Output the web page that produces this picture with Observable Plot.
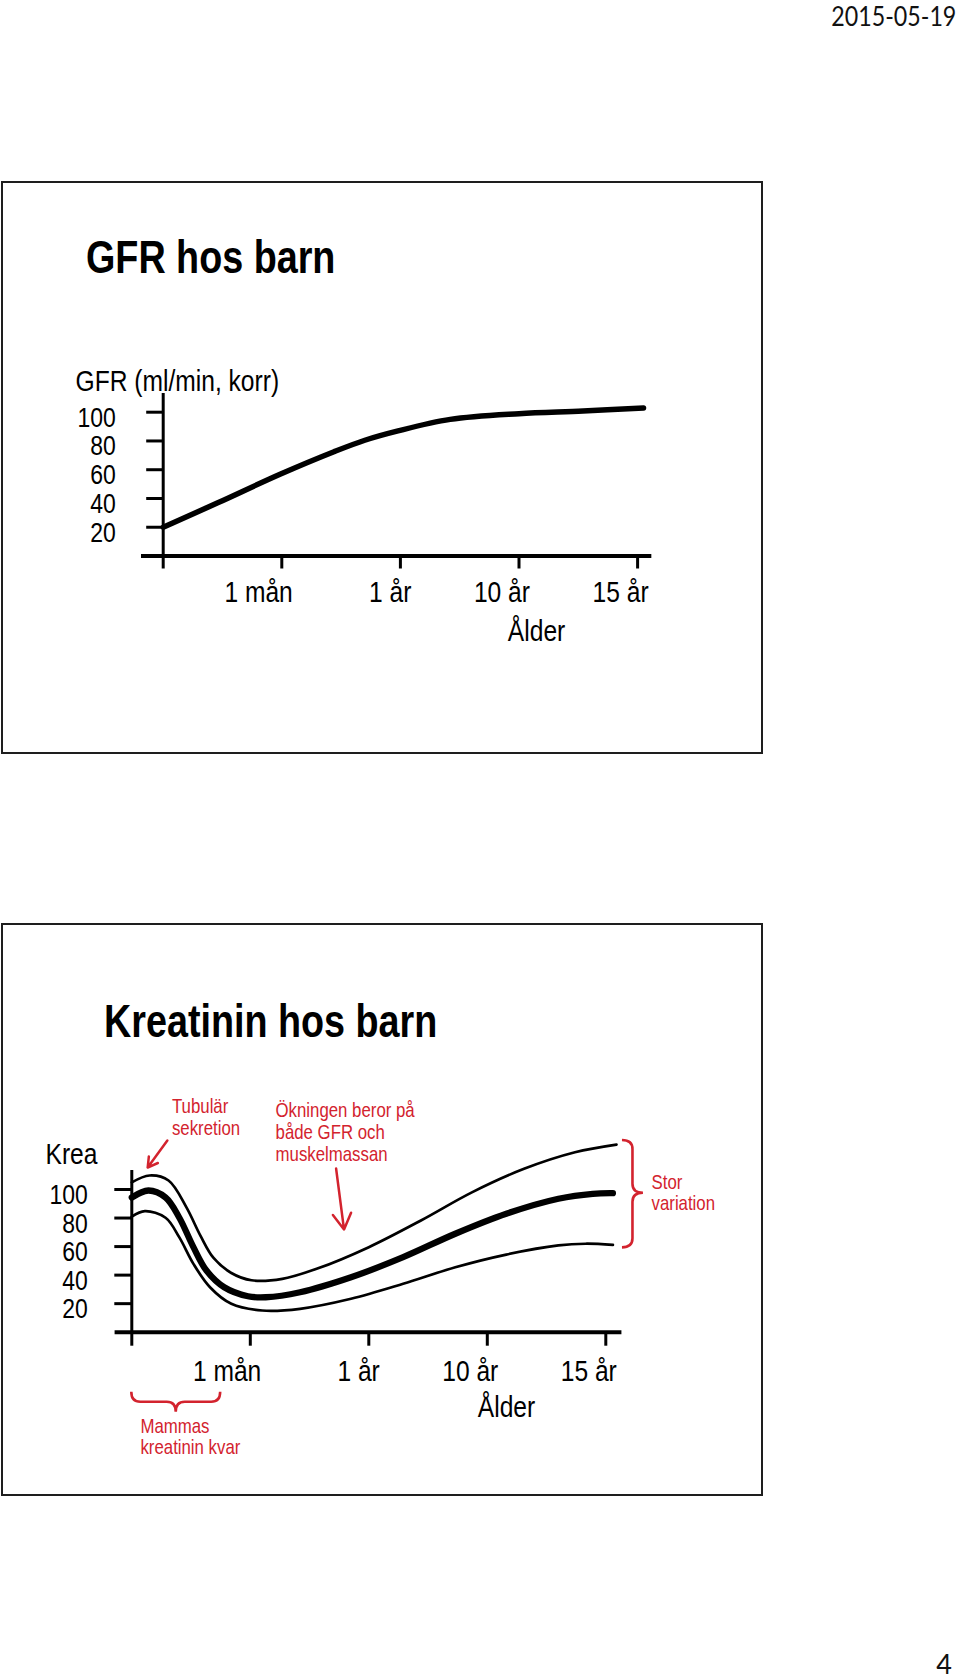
<!DOCTYPE html>
<html><head><meta charset="utf-8">
<script src="https://cdn.jsdelivr.net/npm/d3@7"></script>
<script src="https://cdn.jsdelivr.net/npm/@observablehq/plot@0.6"></script>
<style>
html,body{margin:0;padding:0;background:#fff;}
#page{position:relative;width:960px;height:1680px;overflow:hidden;background:#fff;}
.frame{position:absolute;box-sizing:border-box;border:2px solid #1e1e1e;pointer-events:none;}
.title{position:absolute;font-weight:bold;font-size:46px;line-height:46px;white-space:nowrap;color:#000;transform-origin:0 0;}
.hdr{position:absolute;font-family:Lato,'Open Sans',sans-serif;color:#111;white-space:nowrap;font-size:27px;line-height:32px;transform-origin:100% 0;}
</style></head><body><div id="page"></div><script>
// ---------------- data ----------------
const xTickPos = [0, 1, 2, 3, 4];
const xTickLabels = ["", "1 mån", "1 år", "10 år", "15 år"];
const yTicks = [20, 40, 60, 80, 100];

// GFR (ml/min, korr) against age position (tick units)
const gfrAge   = [0, 0.46, 0.99, 1.44, 1.7, 1.98, 2.42, 3.0, 3.54, 4.05];
const gfrValue = [20, 37, 57, 72.5, 80.5, 87, 95, 99, 100.8, 103];

// Kreatinin: middle (thick), upper and lower (thin)
const kreaMidAge  = [0, 0.14, 0.285, 0.40, 0.52, 0.63, 0.78, 0.98, 1.13, 1.42, 1.85, 2.29, 2.73, 3.16, 3.60, 3.89, 4.06];
const kreaMid     = [94.4, 99.3, 94.4, 80.4, 59.6, 43.2, 31.5, 25.2, 24.5, 28, 38.5, 52.6, 69, 83, 93.5, 97, 97.4];
const kreaHighAge = [0, 0.15, 0.31, 0.46, 0.58, 0.69, 0.84, 1.01, 1.27, 1.56, 2.0, 2.44, 2.87, 3.31, 3.74, 4.09];
const kreaHigh    = [105, 109.8, 106.3, 87.6, 67.5, 52, 41.5, 36.4, 37.4, 44.4, 59.6, 78.3, 98, 114.5, 126.1, 131.5];
const kreaLowAge  = [0, 0.11, 0.285, 0.40, 0.52, 0.66, 0.84, 1.10, 1.42, 1.85, 2.29, 2.73, 3.16, 3.60, 3.83, 4.06];
const kreaLow     = [81, 84.8, 80.2, 66.6, 47.9, 31.5, 19.9, 15.2, 16.4, 23.4, 33.9, 45.5, 54.4, 60.8, 62, 61.2];

// annotation texts
const gfrTitle = "GFR hos barn";
const kreaTitle = "Kreatinin hos barn";
const gfrAxisLabel = "GFR (ml/min, korr)";
const kreaAxisLabel = "Krea";
const ageLabel = "Ålder";
const redNotes = [
  {text: "Tubulär\nsekretion", x: 0.339, y: 138.5},
  {text: "Ökningen beror på\nbåde GFR och\nmuskelmassan", x: 1.213, y: 120.3},
  {text: "Stor\nvariation", x: 4.386, y: 85.6},
  {text: "Mammas\nkreatinin kvar", x: 0.073, y: -85.7}
];
const redArrows = [
  {x1: 0.30, y1: 134.3, x2: 0.134, y2: 115.4},
  {x1: 1.724, y1: 114.7, x2: 1.791, y2: 71.9}
];
const mammaSpan = [0, 0.75];

// ---------------- helpers ----------------
const RED = "#d3232e";
const page = document.getElementById("page");
const narrowOK = (() => {
  const ctx = document.createElement("canvas").getContext("2d");
  const s = "GFR hos barn 0123456789 mån Ålder";
  ctx.font = "40px monospace"; const a = ctx.measureText(s).width;
  ctx.font = "40px 'Liberation Sans Narrow', monospace"; const b = ctx.measureText(s).width;
  return Math.abs(a - b) > 1;
})();
const FAMILY = narrowOK ? "'Liberation Sans Narrow', 'Arial Narrow', sans-serif" : "'Liberation Sans', Arial, Helvetica, sans-serif";
const SQUEEZE = narrowOK ? 1 : 0.82;

function squeeze(svg) {
  if (SQUEEZE === 1) return;
  svg.querySelectorAll("text").forEach(t => {
    const tr = t.getAttribute("transform") || "";
    t.setAttribute("transform", `${tr} scale(${SQUEEZE},1)`);
  });
}
function rows(xs, ys) { return xs.map((a, i) => ({age: a, v: ys[i]})); }

function addDiv(cls, text, style) {
  const d = document.createElement("div");
  d.className = cls; d.textContent = text;
  Object.assign(d.style, style);
  page.appendChild(d);
  return d;
}

function makePlot({top, height, xRange, y0, y100, marks}) {
  const W = 960;
  const svg = Plot.plot({
    width: W, height,
    marginLeft: xRange[0], marginRight: W - xRange[1],
    marginTop: y100 - top, marginBottom: top + height - y0,
    x: {domain: [0, 4]}, y: {domain: [0, 100]},
    style: {background: "transparent", fontFamily: FAMILY, overflow: "visible", color: "#000"},
    marks
  });
  svg.style.position = "absolute"; svg.style.left = "0px"; svg.style.top = top + "px";
  squeeze(svg);
  page.appendChild(svg);
}

function axisMarks({xMin, xMax, yTop, yTickSize, yPad, xTickSize, xPad}) {
  return [
    Plot.ruleY([0], {x1: xMin, x2: xMax, strokeWidth: 4}),
    Plot.ruleX([0], {y1: 0, y2: yTop, strokeWidth: 3}),
    Plot.axisY(yTicks, {tickSize: yTickSize, strokeWidth: 3, fill: "none", label: null}),
    Plot.axisY(yTicks, {tickSize: yTickSize, tickPadding: yPad, stroke: "none", fill: "#000", fontSize: 28, dy: 5.5, label: null}),
    Plot.axisX(xTickPos, {tickSize: xTickSize, strokeWidth: 3, fill: "none", label: null}),
    Plot.axisX(xTickPos, {tickSize: xTickSize, tickPadding: xPad, stroke: "none", fill: "#000", fontSize: 30,
      textAnchor: "end", dx: 11, tickFormat: d => xTickLabels[d], label: null})
  ];
}

// vertical curly brace pointing right, spanning the ends of the outer curves
function rightBrace() {
  return (index, scales) => {
    const {x, y} = scales;
    const xEnd = Math.max(kreaHighAge.at(-1), kreaMidAge.at(-1), kreaLowAge.at(-1));
    const x0 = x(xEnd) + 6, w = 21, xs = x0 + w / 2, xt = x0 + w, r = 9;
    const yt = y(kreaHigh.at(-1)) - 4, yb = y(kreaLow.at(-1)) + 3, ym = y(kreaMid.at(-1));
    const p = `M${x0},${yt} Q${xs},${yt} ${xs},${yt + r} L${xs},${ym - r} Q${xs},${ym} ${xt},${ym} Q${xs},${ym} ${xs},${ym + r} L${xs},${yb - r} Q${xs},${yb} ${x0},${yb}`;
    const path = document.createElementNS("http://www.w3.org/2000/svg", "path");
    path.setAttribute("d", p); path.setAttribute("fill", "none");
    path.setAttribute("stroke", RED); path.setAttribute("stroke-width", 2.6);
    return path;
  };
}
// horizontal curly brace below the x axis, tip down
function bottomBrace() {
  return (index, scales) => {
    const {x, y} = scales;
    const xa = x(mammaSpan[0]), xb = x(mammaSpan[1]), xm = (xa + xb) / 2;
    const yE = y(0) + 60, ys = yE + 10, yT = yE + 20, r = 9;
    const p = `M${xa},${yE} Q${xa},${ys} ${xa + r},${ys} L${xm - r},${ys} Q${xm},${ys} ${xm},${yT} Q${xm},${ys} ${xm + r},${ys} L${xb - r},${ys} Q${xb},${ys} ${xb},${yE}`;
    const path = document.createElementNS("http://www.w3.org/2000/svg", "path");
    path.setAttribute("d", p); path.setAttribute("fill", "none");
    path.setAttribute("stroke", RED); path.setAttribute("stroke-width", 2.6);
    return path;
  };
}

// ---------------- page furniture ----------------
addDiv("hdr", "2015-05-19", {right: "4px", top: "0px", transform: "scaleX(0.86)"});
addDiv("hdr", "4", {right: "8px", top: "1650px", lineHeight: "27px"});

// ---------------- top panel: GFR ----------------
makePlot({
  top: 181, height: 573, xRange: [162.7, 637.1], y0: 555.5, y100: 411.7,
  marks: [
    ...axisMarks({xMin: -0.183, xMax: 4.12, yTop: 113, yTickSize: 16.5, yPad: 31, xTickSize: 13, xPad: 12}),
    Plot.text([gfrAxisLabel], {x: -0.739, y: 114.4, text: d => d, textAnchor: "start", lineAnchor: "bottom", fontSize: 30, fill: "#000"}),
    Plot.text([ageLabel], {x: 3.148, y: -58.8, text: d => d, textAnchor: "middle", lineAnchor: "bottom", fontSize: 30, fill: "#000"}),
    Plot.line(rows(gfrAge, gfrValue), {x: "age", y: "v", stroke: "#000", strokeWidth: 5.5, curve: "catmull-rom"})
  ]
});

// ---------------- bottom panel: Kreatinin ----------------
makePlot({
  top: 923, height: 573, xRange: [131.3, 605.3], y0: 1331.7, y100: 1189,
  marks: [
    ...axisMarks({xMin: -0.141, xMax: 4.136, yTop: 113.3, yTickSize: 17, yPad: 27, xTickSize: 14, xPad: 13}),
    Plot.text([kreaAxisLabel], {x: -0.728, y: 117.9, text: d => d, textAnchor: "start", lineAnchor: "bottom", fontSize: 30, fill: "#000"}),
    Plot.text([ageLabel], {x: 3.162, y: -59.1, text: d => d, textAnchor: "middle", lineAnchor: "bottom", fontSize: 30, fill: "#000"}),
    Plot.line(rows(kreaHighAge, kreaHigh), {x: "age", y: "v", stroke: "#000", strokeWidth: 2.7, curve: "catmull-rom"}),
    Plot.line(rows(kreaLowAge, kreaLow), {x: "age", y: "v", stroke: "#000", strokeWidth: 2.7, curve: "catmull-rom"}),
    Plot.line(rows(kreaMidAge, kreaMid), {x: "age", y: "v", stroke: "#000", strokeWidth: 6.3, curve: "catmull-rom"}),
    Plot.text(redNotes, {x: "x", y: "y", text: "text", textAnchor: "start", lineAnchor: "bottom", lineHeight: 1.05, fontSize: 20.5, fill: RED}),
    Plot.arrow(redArrows, {x1: "x1", y1: "y1", x2: "x2", y2: "y2", stroke: RED, strokeWidth: 2.5, headLength: 11}),
    rightBrace(),
    bottomBrace()
  ]
});

// ---------------- slide frames and titles ----------------
addDiv("frame", "", {left: "1px", top: "181px", width: "762px", height: "573px"});
addDiv("frame", "", {left: "1px", top: "923px", width: "762px", height: "573px"});
addDiv("title", gfrTitle, {left: "86px", top: "234px", fontFamily: FAMILY, transform: `scaleX(${SQUEEZE})`});
addDiv("title", kreaTitle, {left: "104px", top: "998px", fontFamily: FAMILY, transform: `scaleX(${SQUEEZE})`});
</script></body></html>
